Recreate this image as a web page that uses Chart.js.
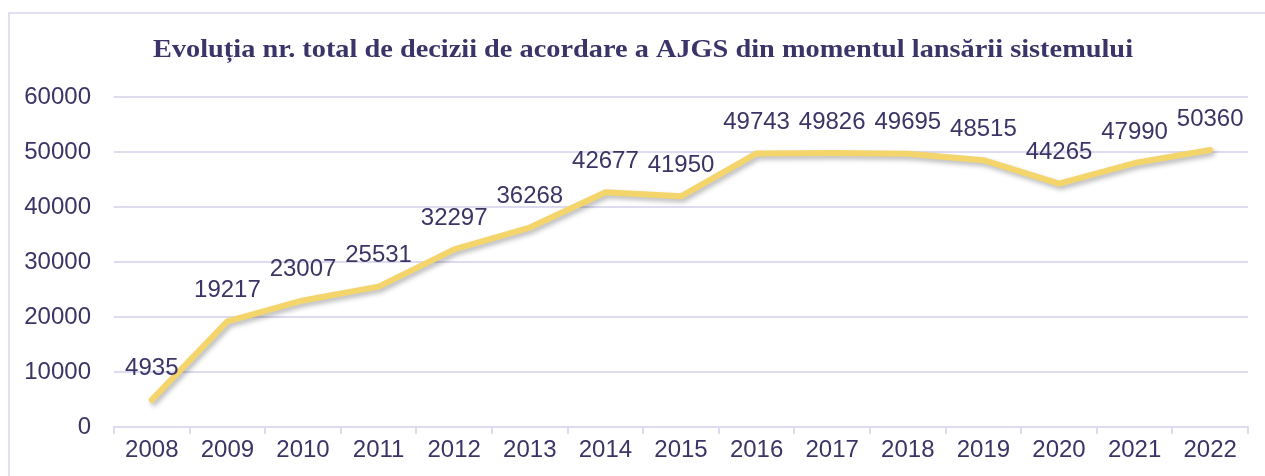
<!DOCTYPE html>
<html>
<head>
<meta charset="utf-8">
<script src="https://cdn.jsdelivr.net/npm/chart.js@4"></script>
<style>
  body { margin: 0; background: #fff; overflow: hidden; }
  #wrap { position: relative; width: 1265px; height: 476px; }
  #frame { position: absolute; left: 8px; top: 12px; width: 1300px; height: 500px; border: 2px solid #e2e0f2; box-sizing: border-box; }
  canvas { position: absolute; left: 0; top: 0; }
</style>
</head>
<body>
<div id="wrap">
  <div id="frame"></div>
  <canvas id="decisionsChart" width="1265" height="476"></canvas>
</div>
<script>
// Evolutia nr. total de decizii AJGS
const years = ['2008', '2009', '2010', '2011', '2012', '2013', '2014', '2015',
               '2016', '2017', '2018', '2019', '2020', '2021', '2022'];
const decisions = [4935, 19217, 23007, 25531, 32297, 36268, 42677, 41950,
                   49743, 49826, 49695, 48515, 44265, 47990, 50360];
const yTicks = [0, 10000, 20000, 30000, 40000, 50000, 60000];

const chartTitle = 'Evoluția nr. total de decizii de acordare a AJGS din momentul lansării sistemului';
const textColor = '#3b3566';
const gridColor = '#dddbef';

const titlePlugin = {
    id: 'titleText',
    afterDraw(chart) {
        const ctx = chart.ctx;
        ctx.save();
        ctx.font = 'bold 26px "Liberation Serif", serif';
        // stretch a little so it spans the same width as the original
        const sx = 980 / ctx.measureText(chartTitle).width;
        ctx.translate(643, 50);
        ctx.scale(sx, 1);
        ctx.fillStyle = '#3a3468';
        ctx.textAlign = 'center';
        ctx.textBaseline = 'middle';
        ctx.fillText(chartTitle, 0, 0);
        ctx.restore();
    }
};

const valueLabels = {
    id: 'valueLabels',
    afterDatasetsDraw(chart) {
        const ctx = chart.ctx;
        const meta = chart.getDatasetMeta(0);
        ctx.save();
        ctx.font = '24px "Liberation Sans", Arial, sans-serif';
        ctx.fillStyle = textColor;
        ctx.textAlign = 'center';
        ctx.textBaseline = 'middle';
        meta.data.forEach((pt, i) => {
            ctx.fillText(String(decisions[i]), pt.x, pt.y - 31);
        });
        ctx.restore();
    }
};

const lineShadow = {
    id: 'lineShadow',
    beforeDatasetDraw(chart) {
        const ctx = chart.ctx;
        ctx.save();
        ctx.shadowColor = 'rgba(0,0,0,0.28)';
        ctx.shadowBlur = 5;
        ctx.shadowOffsetX = 2;
        ctx.shadowOffsetY = 3;
    },
    afterDatasetDraw(chart) {
        chart.ctx.restore();
    }
};

new Chart(document.getElementById('decisionsChart'), {
    type: 'line',
    data: {
        labels: years,
        datasets: [{
            data: decisions,
            borderColor: '#f3d56c',
            borderWidth: 6,
            borderCapStyle: 'round',
            borderJoinStyle: 'round',
            pointRadius: 0,
            tension: 0,
            fill: false
        }]
    },
    options: {
        responsive: false,
        animation: false,
        layout: { padding: { top: 97, right: 17, left: 0, bottom: 0 } },
        plugins: {
            legend: { display: false },
            title: { display: false },
            tooltip: { enabled: false }
        },
        scales: {
            x: {
                offset: true,
                afterFit(scale) { scale.height = 49; },
                grid: {
                    offset: true,
                    drawOnChartArea: false,
                    drawTicks: true,
                    tickLength: 7,
                    color: gridColor,
                    lineWidth: 2
                },
                border: { display: true, color: gridColor, width: 2 },
                ticks: {
                    color: textColor,
                    padding: 2,
                    maxRotation: 0,
                    font: { family: '"Liberation Sans", Arial, sans-serif', size: 24 }
                }
            },
            y: {
                min: 0,
                max: 60000,
                afterFit(scale) { scale.width = 114; },
                afterBuildTicks(scale) { scale.ticks = yTicks.map(v => ({ value: v })); },
                grid: { color: gridColor, lineWidth: 2, drawTicks: false },
                border: { display: false },
                ticks: {
                    color: textColor,
                    padding: 23,
                    callback: v => String(v),
                    font: { family: '"Liberation Sans", Arial, sans-serif', size: 24 }
                }
            }
        }
    },
    plugins: [lineShadow, valueLabels, titlePlugin]
});
</script>
</body>
</html>
